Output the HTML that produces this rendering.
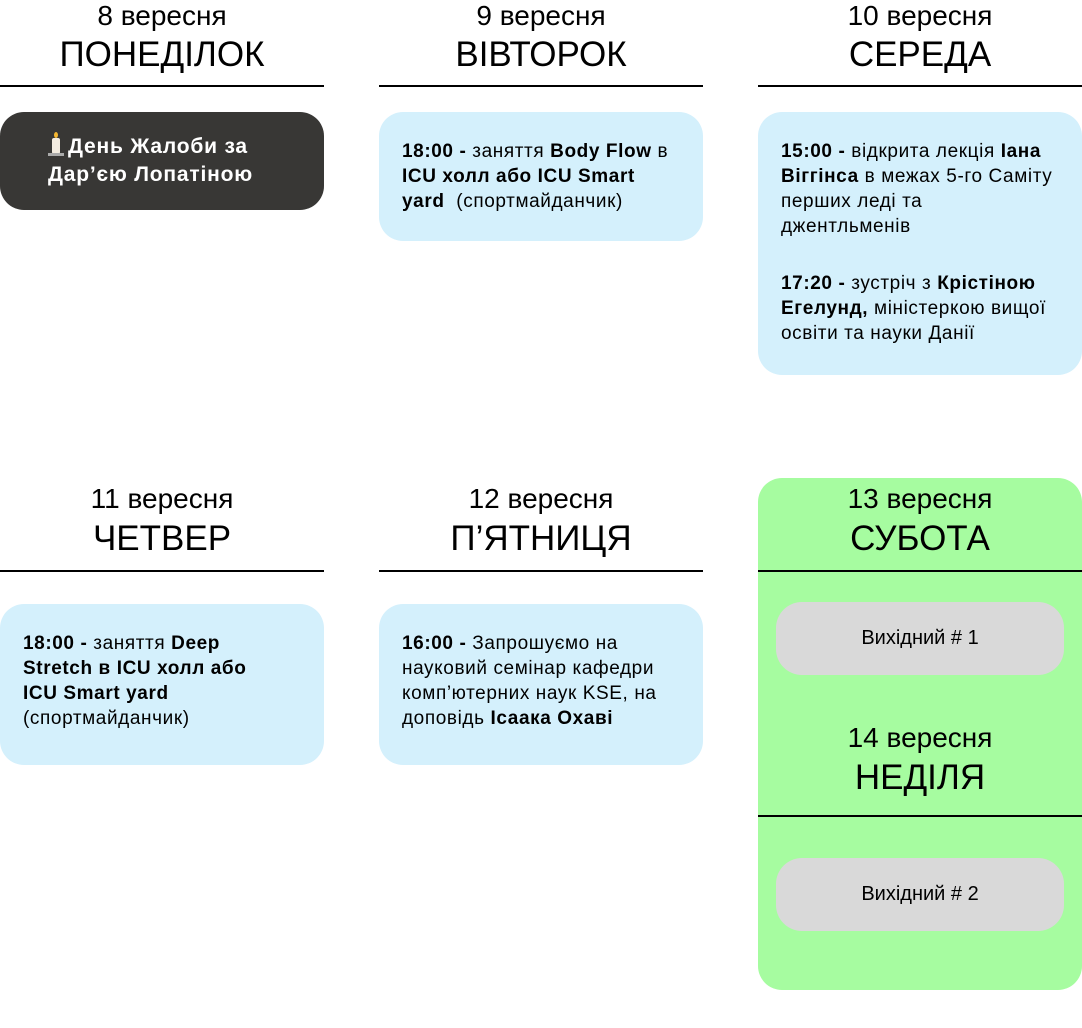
<!DOCTYPE html>
<html><head><meta charset="utf-8"><style>
body{margin:0;width:1082px;height:1028px;background:#fff;font-family:"Liberation Sans",sans-serif;position:relative;overflow:hidden;color:#000}
.a{position:absolute}
.d{position:absolute;width:324px;text-align:center;font-size:28px;line-height:32px}
.n{position:absolute;width:324px;text-align:center;font-size:35px;line-height:40px}
.l{position:absolute;width:324px;height:2px;background:#000}
.c{position:absolute;width:324px;border-radius:24px;background:#d4f0fc;box-sizing:border-box;padding:27px 0 0 23px;font-size:19px;letter-spacing:0.6px;line-height:25px;white-space:nowrap}
.g{position:absolute;left:776px;width:288px;height:73px;border-radius:26px;background:#d9d9d9;text-align:center;font-size:20px;line-height:73px}
.cd{display:inline-block;width:8px;height:16px;background:#f3ece0;border-radius:2px;margin:0 8px 0 4px;position:relative;vertical-align:-1px}
.cd:before{content:"";position:absolute;left:2px;top:-6px;width:4px;height:6px;background:#f5b731;border-radius:50%}
.cd:after{content:"";position:absolute;left:-4px;bottom:-2px;width:16px;height:3px;background:#aaa}
</style></head><body>
<div class="a" style="left:758px;top:478px;width:324px;height:512px;background:#a6fca0;border-radius:24px"></div>

<div class="d" style="left:0;top:0px">8 вересня</div><div class="n" style="left:0;top:35px">ПОНЕДІЛОК</div><div class="l" style="left:0;top:85px"></div>
<div class="d" style="left:379px;top:0px">9 вересня</div><div class="n" style="left:379px;top:35px">ВІВТОРОК</div><div class="l" style="left:379px;top:85px"></div>
<div class="d" style="left:758px;top:0px">10 вересня</div><div class="n" style="left:758px;top:35px">СЕРЕДА</div><div class="l" style="left:758px;top:85px"></div>

<div class="c" style="left:0;top:112px;height:98px;background:#383735;color:#fff;font-weight:bold;font-size:21px;letter-spacing:0.8px;line-height:28px;padding:21px 0 0 48px"><span class="cd"></span>День Жалоби за<br>Дар’єю Лопатіною</div>
<div class="c" style="left:379px;top:112px;height:129px"><b>18:00 -</b> заняття <b>Body Flow</b> в<br><b>ICU холл або ICU Smart</b><br><b>yard</b>&nbsp; (спортмайданчик)</div>
<div class="c" style="left:758px;top:112px;height:263px"><b>15:00 -</b> відкрита лекція <b>Іана</b><br><b>Віггінса</b> в межах 5-го Саміту<br>перших леді та<br>джентльменів<div style="height:32px"></div><b>17:20 -</b> зустріч з <b>Крістіною</b><br><b>Егелунд,</b> міністеркою вищої<br>освіти та науки Данії</div>

<div class="d" style="left:0;top:483px">11 вересня</div><div class="n" style="left:0;top:519px">ЧЕТВЕР</div><div class="l" style="left:0;top:570px"></div>
<div class="d" style="left:379px;top:483px">12 вересня</div><div class="n" style="left:379px;top:519px">П’ЯТНИЦЯ</div><div class="l" style="left:379px;top:570px"></div>
<div class="d" style="left:758px;top:483px">13 вересня</div><div class="n" style="left:758px;top:519px">СУБОТА</div><div class="l" style="left:758px;top:570px"></div>

<div class="c" style="left:0;top:604px;height:161px"><b>18:00 -</b> заняття <b>Deep</b><br><b>Stretch в ICU холл або</b><br><b>ICU Smart yard</b><br>(спортмайданчик)</div>
<div class="c" style="left:379px;top:604px;height:161px"><b>16:00 -</b> Запрошуємо на<br>науковий семінар кафедри<br>комп’ютерних наук KSE, на<br>доповідь <b>Ісаака Охаві</b></div>

<div class="g" style="top:602px">Вихідний # 1</div>
<div class="d" style="left:758px;top:722px">14 вересня</div><div class="n" style="left:758px;top:758px">НЕДІЛЯ</div><div class="l" style="left:758px;top:815px"></div>
<div class="g" style="top:858px">Вихідний # 2</div>
</body></html>
